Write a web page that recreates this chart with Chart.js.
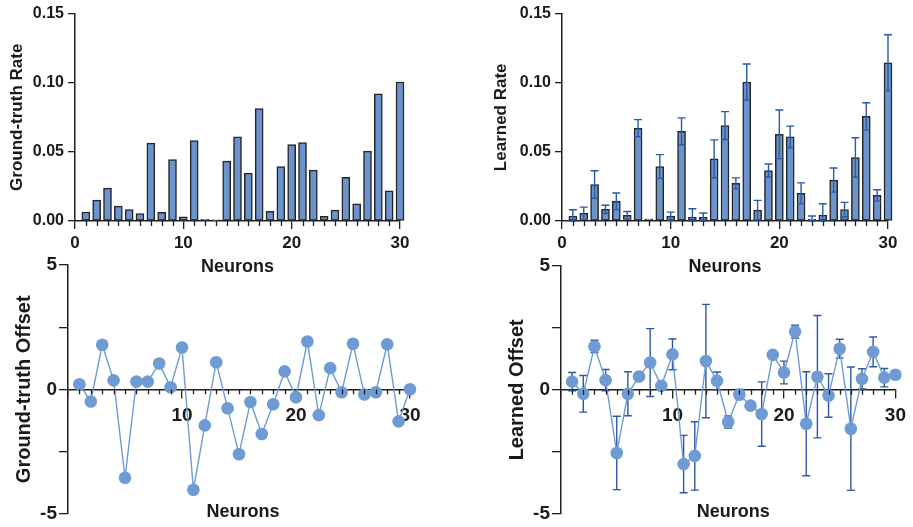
<!DOCTYPE html>
<html>
<head>
<meta charset="utf-8">
<script src="https://cdn.jsdelivr.net/npm/chart.js@4.4.1/dist/chart.umd.min.js"></script>
<style>
  body { margin: 0; background: #fff; width: 913px; height: 527px; position: relative; overflow: hidden; }
  canvas { position: absolute; }
</style>
</head>
<body>
<canvas id="tl" width="456" height="282" style="left:0;top:0"></canvas>
<canvas id="tr" width="457" height="282" style="left:456px;top:0"></canvas>
<canvas id="bl" width="456" height="277" style="left:0;top:250px"></canvas>
<canvas id="br" width="457" height="277" style="left:456px;top:250px"></canvas>
<script>
const neurons = [1, 2, 3, 4, 5, 6, 7, 8, 9, 10, 11, 12, 13, 14, 15, 16, 17, 18, 19, 20, 21, 22, 23, 24, 25, 26, 27, 28, 29, 30];

const groundTruthRate = [0.0065, 0.0151, 0.0238, 0.0108, 0.0082, 0.0053, 0.0563, 0.0063, 0.0445, 0.0031,
  0.0582, 0.0012, 0.0009, 0.0433, 0.0608, 0.0346, 0.0813, 0.0070, 0.0394, 0.0553,
  0.0567, 0.0368, 0.0034, 0.0079, 0.0315, 0.0125, 0.0505, 0.0920, 0.0219, 0.1005];

const learnedRate = [0.0036, 0.0055, 0.0264, 0.0084, 0.0142, 0.0041, 0.0671, 0.0014, 0.0394, 0.0036,
  0.0649, 0.0029, 0.0026, 0.0450, 0.0690, 0.0272, 0.1005, 0.0079, 0.0365, 0.0627,
  0.0608, 0.0200, 0.0012, 0.0043, 0.0296, 0.0082, 0.0459, 0.0757, 0.0185, 0.1144];

const learnedRateErr = [0.0045, 0.0045, 0.0099, 0.0030, 0.0060, 0.0028, 0.0062, 0, 0.0086, 0.0028,
  0.0097, 0.0060, 0.0032, 0.0137, 0.0101, 0.0040, 0.0130, 0.0070, 0.0047, 0.0176,
  0.0078, 0.0076, 0.0024, 0.0082, 0.0087, 0.0053, 0.0143, 0.0098, 0.0041, 0.0203];

const groundTruthOffset = [0.20, -0.49, 1.79, 0.36, -3.56, 0.31, 0.31, 1.04, 0.08, 1.68,
  -4.04, -1.45, 1.09, -0.76, -2.61, -0.51, -1.80, -0.60, 0.72, -0.32,
  1.92, -1.04, 0.85, -0.12, 1.83, -0.21, -0.12, 1.81, -1.29, 0.00];

const learnedOffset = [0.33, -0.16, 1.75, 0.39, -2.55, -0.16, 0.54, 1.10, 0.16, 1.43,
  -3.00, -2.67, 1.16, 0.36, -1.30, -0.19, -0.64, -0.98, 1.41, 0.70,
  2.35, -1.37, 0.53, -0.23, 1.66, -1.57, 0.44, 1.53, 0.49, 0.61];

const learnedOffsetErr = [0.37, 0.74, 0.25, 0.43, 1.48, 0.89, 0, 1.37, 0.18, 0.62,
  1.16, 1.38, 2.29, 0.36, 0.24, 0.20, 0, 1.30, 0, 0.46,
  0.26, 2.10, 2.47, 0.88, 0.38, 2.49, 0.41, 0.60, 0.37, 0];

const FONT = "'Liberation Sans', Arial, Helvetica, sans-serif";
const TXT = '#1a1a1a';
const AX = '#1f1f1f';
const BAR = '#6b93cc';
const BAR_EDGE = '#262626';
const ERR = '#2b5aa3';
const PT = '#6e9bd3';

const toXY = (ys) => neurons.map((n, i) => ({ x: n, y: ys[i] }));

// small ticks at every neuron below the x axis line
const minorTicks = (len) => ({
  id: 'minorTicks',
  afterDraw(chart) {
    const { ctx, scales: { x, y } } = chart;
    const y0 = y.getPixelForValue(0);
    ctx.save();
    ctx.strokeStyle = AX;
    ctx.lineWidth = 1.3;
    neurons.forEach((n) => {
      if (n % 10 === 0) return;
      const px = Math.round(x.getPixelForValue(n)) + 0.5;
      ctx.beginPath();
      ctx.moveTo(px, y0);
      ctx.lineTo(px, y0 + len);
      ctx.stroke();
    });
    ctx.restore();
  }
});

const errorBars = (values, errors, cap, onTop) => {
  const draw = (chart) => {
    const { ctx, chartArea, scales: { x, y } } = chart;
    ctx.save();
    ctx.strokeStyle = ERR;
    ctx.lineWidth = 1.4;
    values.forEach((v, i) => {
      const e = errors[i];
      if (!e) return;
      const px = x.getPixelForValue(neurons[i]);
      const yt = y.getPixelForValue(v + e);
      const yb = Math.min(y.getPixelForValue(v - e), chartArea.bottom);
      ctx.beginPath();
      ctx.moveTo(px, yt); ctx.lineTo(px, yb);
      ctx.moveTo(px - cap, yt); ctx.lineTo(px + cap, yt);
      ctx.moveTo(px - cap, yb); ctx.lineTo(px + cap, yb);
      ctx.stroke();
    });
    ctx.restore();
  };
  return onTop ? { id: 'errorBars', afterDatasetsDraw: draw } : { id: 'errorBars', beforeDatasetsDraw: draw };
};

const bottomTitle = (text, dx) => ({
  id: 'bottomTitle',
  afterDraw(chart) {
    const { ctx, chartArea } = chart;
    ctx.save();
    ctx.fillStyle = TXT;
    ctx.font = `bold 18px ${FONT}`;
    ctx.textAlign = 'center';
    ctx.textBaseline = 'middle';
    ctx.fillText(text, (chartArea.left + chartArea.right) / 2 + dx, chartArea.bottom - 2);
    ctx.restore();
  }
});

function rateChart(id, title, values, yWidth, titlePad, rightPad, extra) {
  return new Chart(document.getElementById(id), {
    type: 'bar',
    data: {
      datasets: [{
        data: toXY(values),
        backgroundColor: BAR,
        borderColor: BAR_EDGE,
        borderWidth: 1.5,
        borderSkipped: false,
        barThickness: 8,
        clip: false
      }]
    },
    options: {
      responsive: false,
      animation: false,
      layout: { padding: { top: 12, right: rightPad, bottom: 0, left: 0 } },
      plugins: { legend: { display: false }, tooltip: { enabled: false } },
      scales: {
        x: {
          type: 'linear', min: 0, max: 30, offset: false,
          grid: { drawOnChartArea: false, offset: false, tickLength: 8, color: AX, lineWidth: 1.3 },
          border: { color: AX, width: 1.5 },
          ticks: { stepSize: 10, padding: 4, maxRotation: 0, autoSkip: false, color: TXT,
            font: { family: FONT, size: 17, weight: 'bold' } },
          title: { display: true, text: 'Neurons', color: TXT,
            font: { family: FONT, size: 18, weight: 'bold' }, padding: { top: 0, bottom: 4 } },
          afterFit(s) { s.height = 61; }
        },
        y: {
          min: 0, max: 0.15,
          grid: { drawOnChartArea: false, tickLength: 7, color: AX, lineWidth: 1.3 },
          border: { color: AX, width: 1.5 },
          ticks: { stepSize: 0.05, padding: 4, color: TXT,
            font: { family: FONT, size: 16, weight: 'bold' },
            callback: (v) => v.toFixed(2) },
          title: { display: true, text: title, color: TXT,
            font: { family: FONT, size: 17, weight: 'bold' }, padding: { top: titlePad, bottom: 0 } },
          afterFit(s) { s.width = yWidth; }
        }
      }
    },
    plugins: [minorTicks(5)].concat(extra)
  });
}

function offsetChart(id, title, values, yWidth, titlePad, pads, dx, extra) {
  return new Chart(document.getElementById(id), {
    type: 'line',
    data: {
      datasets: [{
        data: toXY(values),
        borderColor: PT,
        backgroundColor: PT,
        borderWidth: 1.4,
        pointRadius: 6.3,
        pointBorderWidth: 0,
        pointBackgroundColor: PT,
        tension: 0,
        clip: false
      }]
    },
    options: {
      responsive: false,
      animation: false,
      layout: { padding: pads },
      plugins: { legend: { display: false }, tooltip: { enabled: false } },
      scales: {
        x: {
          type: 'linear', position: { y: 0 }, min: 0, max: 30,
          grid: { drawOnChartArea: false, tickLength: 8, color: AX, lineWidth: 1.3 },
          border: { color: AX, width: 1.5 },
          ticks: { stepSize: 10, padding: 7, maxRotation: 0, autoSkip: false, color: TXT,
            font: { family: FONT, size: 19, weight: 'bold' },
            callback: (v) => (v === 0 ? '' : v) }
        },
        y: {
          type: 'linear', position: 'left', min: -5, max: 5,
          grid: { drawOnChartArea: false, tickLength: 9, color: AX, lineWidth: 1.3 },
          border: { color: AX, width: 1.5 },
          ticks: { stepSize: 2.5, padding: 2, color: TXT,
            font: { family: FONT, size: 19, weight: 'bold' },
            callback: (v) => (v % 5 === 0 ? String(v) : '') },
          title: { display: true, text: title, color: TXT,
            font: { family: FONT, size: 20, weight: 'bold' }, padding: { top: titlePad, bottom: 0 } },
          afterFit(s) { s.width = yWidth; }
        }
      }
    },
    plugins: [minorTicks(5), bottomTitle('Neurons', dx)].concat(extra)
  });
}

rateChart('tl', 'Ground-truth Rate', groundTruthRate, 75, 7, 56, []);
rateChart('tr', 'Learned Rate', learnedRate, 106, 35, 25,
  [errorBars(learnedRate, learnedRateErr, 4, true)]);

offsetChart('bl', 'Ground-truth Offset', groundTruthOffset, 68, 12,
  { top: 15, right: 46, bottom: 12, left: 0 }, 4, []);
offsetChart('br', 'Learned Offset', learnedOffset, 105, 49,
  { top: 16, right: 11, bottom: 11, left: 0 }, 5,
  [errorBars(learnedOffset, learnedOffsetErr, 4, false)]);
</script>
</body>
</html>
